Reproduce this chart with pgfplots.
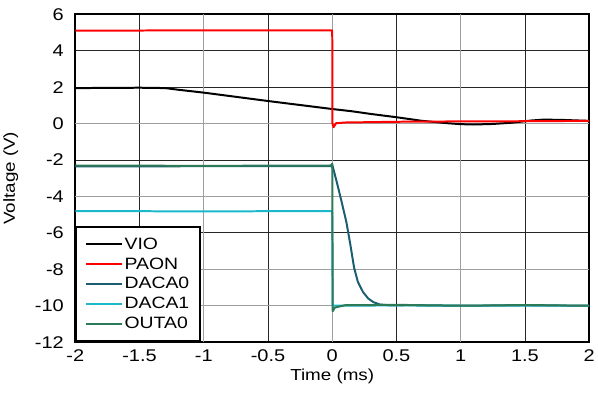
\documentclass[border=0pt]{standalone}
\usepackage{pgfplots}
\pgfplotsset{compat=1.18}
\usepackage{fontspec}
\setmainfont[FakeStretch=1.18]{Liberation Sans}
\definecolor{cVIO}{HTML}{000000}
\definecolor{cPAON}{HTML}{FF0000}
\definecolor{cDACA0}{HTML}{1B5E74}
\definecolor{cDACA1}{HTML}{1AB8CB}
\definecolor{cOUTA0}{HTML}{2D7A58}
\begin{document}
\begin{tikzpicture}
\begin{axis}[
  scale only axis,
  width=514bp, height=328bp,
  xmin=-2, xmax=2, ymin=-12, ymax=6,
  xtick={-2,-1.5,...,2},
  ytick={-12,-10,...,6},
  xticklabels={-2,-1.5,-1,-0.5,0,0.5,1,1.5,2},
  yticklabels={-12,-10,-8,-6,-4,-2,0,2,4,6},
  tick style={draw=none},
  grid=major,
  major grid style={black!85, line width=0.8pt},
  extra x ticks={-1,0,1},
  extra x tick labels={},
  extra x tick style={grid=major, major grid style={gray!75, line width=1pt}},
  extra y ticks={0,-4,-8,-10},
  extra y tick labels={},
  extra y tick style={grid=major, major grid style={gray!75, line width=1pt}},
  axis line style={line width=1.8pt},
  ticklabel style={font=\fontsize{17}{19}\selectfont},
  xticklabel style={yshift=-4pt},
  yticklabel style={xshift=-8pt},
  /pgf/number format/assume math mode=true,
  xlabel={Time (ms)},
  ylabel={Voltage (V)},
  label style={font=\fontsize{16}{18}\selectfont},
  xlabel style={yshift=0pt},
  ylabel style={yshift=10pt},
  legend style={at={(0,0)}, anchor=south west, draw=black, line width=1.8pt,
    font=\fontsize{16.5}{18}\selectfont, inner xsep=9pt, inner ysep=9pt,
    row sep=3pt, legend cell align=left},
  legend image code/.code={\draw[#1, line width=2pt] (0cm,0cm) -- (1.25cm,0cm);},
  every axis plot/.append style={line width=2pt, line join=round},
]
\addplot[cVIO] coordinates {
(-2,1.95) (-1.7,1.96) (-1.5,1.97) (-1.3,1.95) (-1.2,1.86) (-1.0,1.70)
(-0.75,1.47) (-0.5,1.24) (-0.25,1.02) (0,0.80) (0.15,0.68) (0.3,0.53)
(0.5,0.35) (0.7,0.15) (0.9,0.02) (1.0,-0.03) (1.1,-0.05) (1.25,-0.02)
(1.4,0.05) (1.55,0.17) (1.65,0.22) (1.8,0.2) (2,0.15)};
\addlegendentry{VIO}
\addplot[cPAON] coordinates {
(-2,5.1) (-1,5.12) (-0.005,5.12) (0,5.1) (0.002,0) (0.01,-0.2) (0.03,0.02)
(0.1,0.06) (0.5,0.1) (1,0.12) (1.5,0.13) (2,0.15)};
\addlegendentry{PAON}
\addplot[cDACA0] coordinates {
(-2,-2.35) (-0.005,-2.33) (0,-2.25) (0.035,-3.2) (0.07,-4.2) (0.11,-5.4) (0.14,-6.6)
(0.17,-7.9) (0.2,-8.7) (0.24,-9.25) (0.28,-9.6) (0.32,-9.8) (0.37,-9.93)
(0.45,-9.98) (0.6,-9.97) (0.8,-9.98) (1,-10) (1.5,-9.97) (2,-10)};
\addlegendentry{DACA0}
\addplot[cDACA1] coordinates {
(-2,-4.8) (-1,-4.82) (-0.01,-4.8) (0,-4.8) (0.003,-10.0) (0.5,-9.98) (1,-10) (2,-10)};
\addlegendentry{DACA1}
\addplot[cOUTA0] coordinates {
(-2,-2.3) (-1,-2.32) (-0.01,-2.3) (0,-2.2) (0.004,-10.3) (0.02,-10.1) (0.1,-9.97)
(0.5,-9.95) (0.8,-9.98) (1,-10) (1.5,-9.96) (2,-10)};
\addlegendentry{OUTA0}
\end{axis}
\path ([yshift=5bp]current bounding box.north) ([yshift=-6bp]current bounding box.south);
\end{tikzpicture}
\end{document}
